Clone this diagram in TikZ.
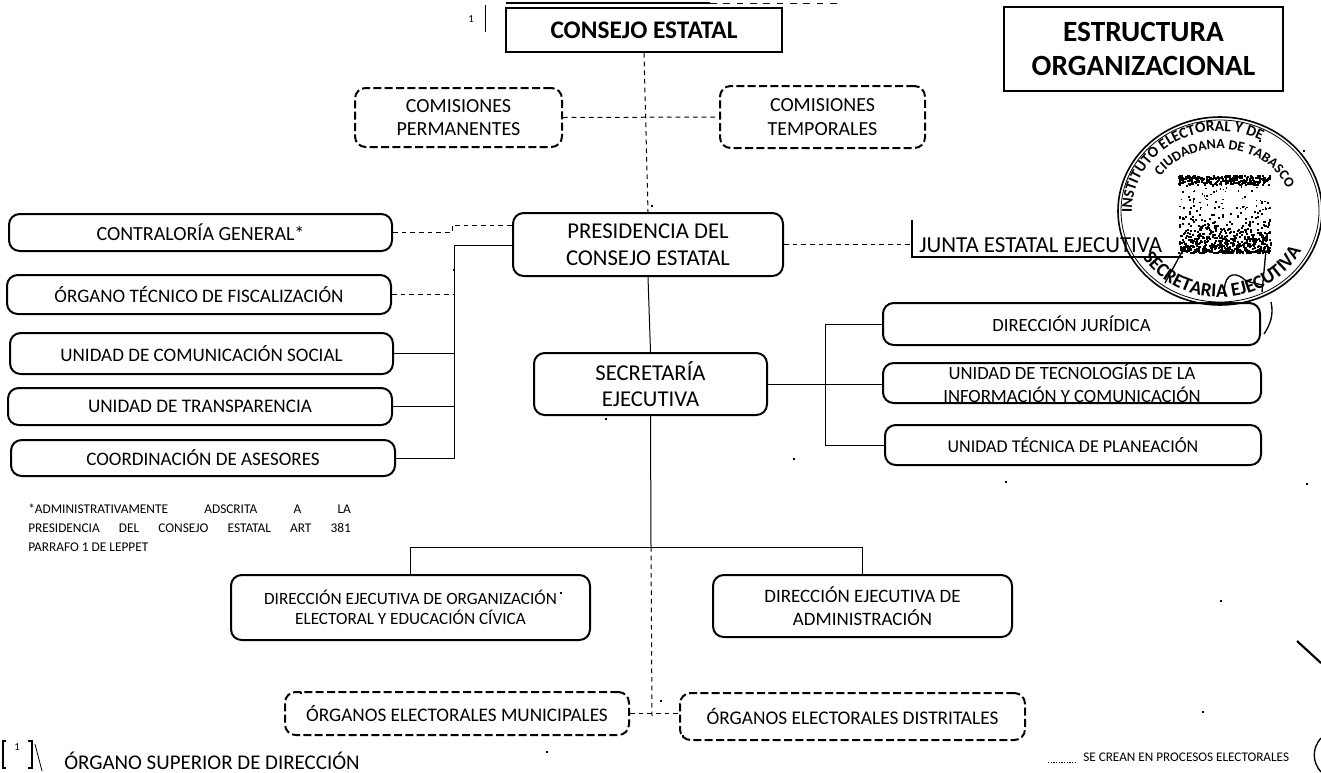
\documentclass[tikz,border=0pt]{standalone}
\usepackage{fontspec}
\setmainfont{Carlito}
\usetikzlibrary{decorations.text}
\newcommand\fs[2]{\fontsize{#1}{#2}\selectfont}
\tikzset{
  solidbox/.style={draw=black,line width=1.5pt,rounded corners=8pt,inner sep=0pt,align=center},
  dashbox/.style={solidbox,dash pattern=on 6pt off 2.5pt},
  squarebox/.style={draw=black,line width=1.6pt,inner sep=0pt,align=center},
  link/.style={draw=black,line width=0.75pt},
  dashlink/.style={link,dash pattern=on 3.5pt off 3pt},
  plain/.style={inner sep=0pt,align=center}
}
\newcommand\bx[7][]{%
  \pgfmathsetmacro\mycx{(#4+#6)/2}\pgfmathsetmacro\mycy{(#5+#7)/2}%
  \pgfmathsetmacro\myw{(#6-#4)*0.75}\pgfmathsetmacro\myh{(#7-#5)*0.75}%
  \node[#2,minimum width=\myw pt,minimum height=\myh pt,#1] (#3) at (\mycx,\mycy)}
\begin{document}
\begin{tikzpicture}[x=0.75pt,y=-0.75pt]
\path[use as bounding box,fill=white] (0,0) rectangle (1321,772);

% top boxes
\bx[font=\fs{19}{22}\bfseries]{squarebox}{cons}{506}{8}{782}{52} {CONSEJO ESTATAL};
\bx[font=\fs{22}{26}\bfseries]{squarebox}{titulo}{1004}{7}{1283}{91} {ESTRUCTURA\\ORGANIZACIONAL};
\bx[font=\fs{15}{17.5}]{dashbox}{perm}{355}{88}{562}{147} {COMISIONES\\PERMANENTES};
\bx[font=\fs{15}{17.5}]{dashbox}{temp}{720}{86}{925}{148} {COMISIONES\\TEMPORALES};

% central
\bx[font=\fs{17}{20}]{solidbox}{pres}{513}{213}{783}{276} {PRESIDENCIA DEL\\CONSEJO ESTATAL};
\bx[font=\fs{17}{20}]{solidbox}{sec}{534}{353}{767}{415} {SECRETARÍA\\EJECUTIVA};

% left column
\bx[font=\fs{15}{17}]{solidbox}{cont}{9}{214}{392}{251} {CONTRALORÍA GENERAL*};
\bx[font=\fs{14.3}{17}]{solidbox}{orga}{7}{275}{391}{314} {ÓRGANO TÉCNICO DE FISCALIZACIÓN};
\bx[font=\fs{14.3}{17}]{solidbox}{comu}{10}{333}{393}{374} {UNIDAD DE COMUNICACIÓN SOCIAL};
\bx[font=\fs{14.4}{17}]{solidbox}{tran}{8}{388}{392}{425} {UNIDAD DE TRANSPARENCIA};
\bx[font=\fs{14.3}{17}]{solidbox}{coor}{11}{440}{395}{476} {COORDINACIÓN DE ASESORES};

% right column
\bx[font=\fs{14}{17}]{solidbox}{juri}{883}{303}{1260}{345} {DIRECCIÓN JURÍDICA};
\bx[font=\fs{14}{17.5}]{solidbox}{tecn}{883}{363}{1261}{403} {UNIDAD DE TECNOLOGÍAS DE LA\\INFORMACIÓN Y COMUNICACIÓN};
\bx[font=\fs{13.5}{17}]{solidbox}{plan}{885}{425}{1261}{465} {UNIDAD TÉCNICA DE PLANEACIÓN};

% lower boxes
\bx[font=\fs{12.9}{14.5}]{solidbox}{deoe}{231}{575}{590}{640} {DIRECCIÓN EJECUTIVA DE ORGANIZACIÓN\\ELECTORAL Y EDUCACIÓN CÍVICA};
\bx[font=\fs{14.2}{17}]{solidbox}{dead}{713}{575}{1012}{637} {DIRECCIÓN EJECUTIVA DE\\ADMINISTRACIÓN};
\bx[font=\fs{14.4}{17}]{dashbox}{omun}{285}{692}{629}{735} {ÓRGANOS ELECTORALES MUNICIPALES};
\bx[font=\fs{14.5}{17}]{dashbox}{odis}{680}{693}{1025}{740} {ÓRGANOS ELECTORALES DISTRITALES};

% Junta
\node[plain,anchor=base west,font=\fs{17.2}{20}] (junta) at (919,252) {JUNTA ESTATAL EJECUTIVA};
\coordinate (jT) at (912,220);
\coordinate (jB) at (912,257);
\coordinate (jE) at (1183,257);
\draw[link,line width=1pt] (jT) -- (jB) -- (jE);

% connectors
\coordinate (busT) at (454,245);
\coordinate (busB) at (454,458);
\coordinate (busD) at (452,225);
\draw[link] (pres.west |- busT) -- (busT) -- (busB) -- (coor.east);
\draw[link] (comu.east) -- (comu.east -| busT);
\draw[link] (tran.east) -- (tran.east -| busT);
\draw[dashlink] (orga.east) -- (orga.east -| busT);
\draw[dashlink] (cont.east) -- (cont.east -| busD) -- (busD) -- (busD -| pres.west);
\draw[dashlink] (cons.south) -- (pres.north);
\draw[dashlink] (perm.east) -- (temp.west);
\draw[dashlink] (pres.east) -- (pres.east -| jT);
\draw[link] (pres.south) -- (sec.north);
\coordinate (busR) at (825,324);
\coordinate (busS) at (825,445);
\draw[link] (juri.west) -- (busR) -- (busS) -- (plan.west);
\draw[link] (sec.east) -- (sec.east -| tecn.west);
\coordinate (hC) at (651,547);
\coordinate (hD) at (652,716);
\draw[link] (sec.south) -- (hC);
\draw[link] (deoe.north) |- (hC) -| (dead.north);
\draw[dashlink] (hC) -- (hD);
\draw[dashlink] (omun.east) -- (omun.east -| odis.west);

% footnote
\node[plain,anchor=north west,font=\fs{10}{14}] (nota) at (28,504) {%
  \hbox to 242pt{*ADMINISTRATIVAMENTE\hfill ADSCRITA\hfill A\hfill LA}%
  \\[0pt]\hbox to 242pt{PRESIDENCIA\hfill DEL\hfill CONSEJO\hfill ESTATAL\hfill ART\hfill 381}%
  \\[0pt]\hbox to 242pt{PARRAFO 1 DE LEPPET\hfill}};

% legend
\node[plain,font=\fs{8}{9}] (uno) at (17,747) {1};
\coordinate (la) at (6,741); \coordinate (lb) at (3,741); \coordinate (lc) at (3,768); \coordinate (ld) at (6,768);
\draw[link,line width=0.9pt] (la) -- (lb) -- (lc) -- (ld);
\coordinate (ra) at (28,741); \coordinate (rb) at (32,741); \coordinate (rc) at (32,768); \coordinate (rd) at (28,768);
\draw[link,line width=0.9pt] (ra) -- (rb) -- (rc) -- (rd);
\coordinate (sa) at (35,744); \coordinate (sb) at (42,771);
\draw[link,line width=0.6pt] (sa) -- (sb);
\node[plain,anchor=west,font=\fs{15.7}{18}] (sup) at (64,761) {ÓRGANO SUPERIOR DE DIRECCIÓN};
\node[plain,anchor=west,font=\fs{9.9}{12}] (crean) at (1083,757) {SE CREAN EN PROCESOS ELECTORALES};
\coordinate (pa) at (1048,762); \coordinate (pb) at (1076,762);
\draw[link,dash pattern=on 1pt off 1pt] (pa) -- (pb);

% top-left marker
\node[plain,font=\fs{8}{9}] (unob) at (471,19) {1};
\coordinate (ma) at (485,5); \coordinate (mb) at (485,32);
\draw[link,line width=0.6pt] (ma) -- (mb);
\coordinate (ta) at (506,3); \coordinate (tb) at (710,3); \coordinate (tc) at (840,3);
\draw[link,line width=1.1pt] (ta) -- (tb);
\draw[link,dash pattern=on 5pt off 5pt] (tb) -- (tc);

% scan marks
\coordinate (ka) at (1297,641); \coordinate (kb) at (1321,663);
\draw[line width=1.6pt] (ka) -- (kb);
\coordinate (kc) at (1321,738); \coordinate (kd) at (1321,772);
\draw[line width=1pt] (kc) .. controls (1312,748) and (1312,762) .. (kd);
\foreach \dx/\dy in {1202/711,1005/481,605/418,793/458,1306/483,1303/150,453/269,660/700,651/205,546/751,682/735,300/692,560/592,1220/600,1259/140}{
  \fill (\dx,\dy) rectangle +(2,2);
}

% seal
\begin{scope}[shift={(1220,211)},x=0.75pt,y=0.75pt]
  \draw[line width=1.2pt] (0,0) ellipse [x radius=102,y radius=94];
  \draw[line width=0.6pt] (0,0) ellipse [x radius=99,y radius=91];
  \path[decorate,decoration={text along path,text align=left,
    text={|\fs{11.5}{13}\bfseries|INSTITUTO ELECTORAL Y DE}}]
    (0,0) ++(181:88 and 80) arc [start angle=181,end angle=45,x radius=88,y radius=80];
  \path[decorate,decoration={text along path,text align=center,
    text={|\fs{10.5}{13}\bfseries|CIUDADANA DE TABASCO}}]
    (0,0) ++(155:72 and 62) arc [start angle=155,end angle=12,x radius=72,y radius=62];
  \path[decorate,decoration={text along path,text align=center,
    text={|\fs{14.5}{16}\bfseries|SECRETARIA EJECUTIVA}}]
    (0,0) ++(205:92 and 86) arc [start angle=205,end angle=340,x radius=92,y radius=86];
\end{scope}
\pgfmathsetseed{11}
\foreach \i in {1,...,300}{
  \pgfmathsetmacro\ax{1178+rnd*92}\pgfmathsetmacro\ay{175+rnd*9}
  \fill (\ax,\ay) rectangle +(2,2);
}
\foreach \i in {1,...,620}{
  \pgfmathsetmacro\ax{1178+rnd*92}\pgfmathsetmacro\ay{252-(rnd*rnd)*50}
  \fill (\ax,\ay) rectangle +(2,2);
}
\foreach \i in {1,...,60}{
  \pgfmathsetmacro\ax{1178+rnd*92}\pgfmathsetmacro\ay{184+rnd*25}
  \fill (\ax,\ay) rectangle +(1.5,1.5);
}
\coordinate (pa1) at (1183,250); \coordinate (pa2) at (1165,283);
\coordinate (pb1) at (1266,250); \coordinate (pb2) at (1262,292);
\draw[line width=1pt] (pa1) -- (pa2);
\draw[line width=1pt] (pb1) -- (pb2);
\coordinate (hl) at (1225,296); \coordinate (hr) at (1262,285);
\draw[line width=1pt] (hl) .. controls (1222,278) and (1232,268) .. (1245,280) .. controls (1250,283) and (1256,283) .. (hr);
\coordinate (ca) at (1271,302); \coordinate (cb) at (1264,334);
\draw[line width=1pt] (ca) .. controls (1274,315) and (1270,325) .. (cb);
\end{tikzpicture}
\end{document}
